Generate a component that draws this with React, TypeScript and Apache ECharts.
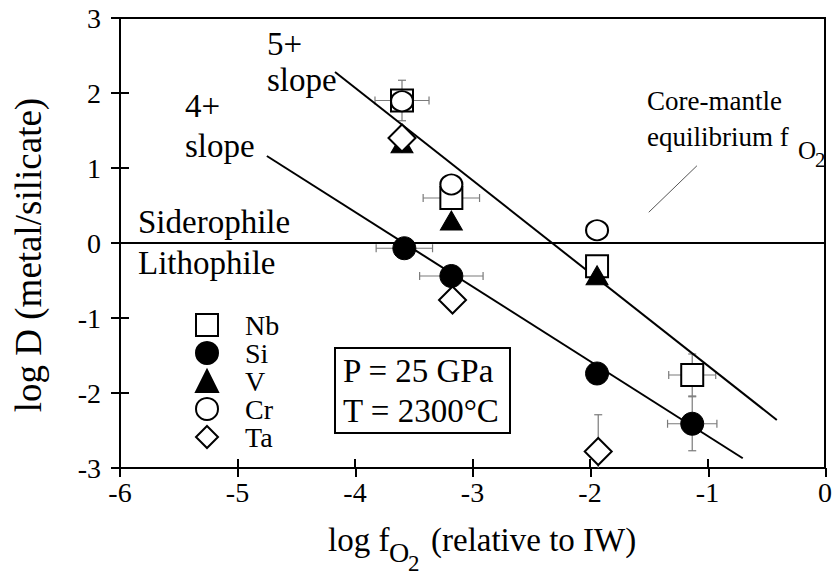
import React, { useEffect, useRef } from 'react';
import * as echarts from 'echarts';

// ---- data ----
const xAxisRange = { min: -6, max: 0, interval: 1 };
const yAxisRange = { min: -3, max: 3, interval: 1 };

const legendNames = ['Nb', 'Si', 'V', 'Cr', 'Ta'];

const nbData = [[-3.6, 1.90], [-3.18, 0.60], [-1.94, -0.31], [-1.13, -1.76]];
const siData = [[-3.58, -0.07], [-3.18, -0.44], [-1.94, -1.74], [-1.13, -2.41]];
const vData = [[-3.6, 1.33], [-3.18, 0.30], [-1.94, -0.43]];
const crData = [[-3.6, 1.89], [-3.18, 0.78], [-1.94, 0.17]];
const taData = [[-3.6, 1.40], [-3.17, -0.76], [-1.93, -2.78]];

// [x, y, xError, yError]
const errorBars = [
  [-3.6, 1.90, 0.23, 0.27],
  [-3.18, 0.60, 0.24, 0],
  [-3.58, -0.07, 0.24, 0],
  [-3.18, -0.44, 0.27, 0],
  [-1.13, -1.76, 0.2, 0.28],
  [-1.13, -2.41, 0.21, 0.36],
  [-1.93, -2.78, 0, 0.49],
];

const slope5Line = [[-4.17, 2.28], [-0.41, -2.36]];
const slope4Line = [[-4.75, 1.16], [-0.70, -2.87]];
const boundaryLine = [[-6, 0], [0, 0]];
const coreMantleLine = [[-1.50, 0.41], [-1.09, 1.03]];

const FONT = 'Liberation Serif, Times New Roman, serif';

function txt(text: string, x: number, y: number, size: number, align = 'left', extra: any = {}) {
  return {
    type: 'text',
    x,
    y,
    silent: true,
    z: 10,
    ...extra,
    style: {
      text,
      fontSize: size,
      fontFamily: FONT,
      fill: '#000',
      align,
      verticalAlign: 'middle',
      textAlign: align,
      textVerticalAlign: 'middle',
    },
  };
}

export default function App() {
  const ref = useRef<HTMLDivElement>(null);
  useEffect(() => {
    if (!ref.current) return;
    const chart = echarts.init(ref.current, null, { renderer: 'svg' });

    const emptyStyle = { color: '#fff', borderColor: '#000', borderWidth: 2, opacity: 1 };
    const filledStyle = { color: '#000', borderColor: '#000', borderWidth: 1, opacity: 1 };
    const gridPos = { left: 120, right: 9, top: 18, bottom: 109 };
    const tickStyle = { color: '#000', width: 2 };

    const option: any = {
      animation: false,
      backgroundColor: '#fff',
      grid: [
        { ...gridPos, show: true, borderColor: '#000', borderWidth: 2, backgroundColor: 'transparent' },
        { ...gridPos, show: false },
      ],
      xAxis: [
        {
          type: 'value', gridIndex: 0, ...xAxisRange, position: 'bottom',
          axisLine: { show: true, onZero: false, lineStyle: { color: '#000', width: 2 } },
          axisTick: { show: true, inside: true, length: 9, lineStyle: tickStyle },
          axisLabel: { color: '#000', fontSize: 28, fontFamily: FONT, margin: 10 },
          splitLine: { show: false },
        },
        {
          type: 'value', gridIndex: 1, ...xAxisRange, position: 'bottom',
          axisLine: { show: false, onZero: false },
          axisTick: { show: true, inside: false, length: 9, lineStyle: tickStyle },
          axisLabel: { show: false },
          splitLine: { show: false },
        },
      ],
      yAxis: [
        {
          type: 'value', gridIndex: 0, ...yAxisRange, position: 'left',
          axisLine: { show: true, onZero: false, lineStyle: { color: '#000', width: 2 } },
          axisTick: { show: true, inside: true, length: 9, lineStyle: tickStyle },
          axisLabel: { color: '#000', fontSize: 28, fontFamily: FONT, margin: 19 },
          splitLine: { show: false },
        },
        {
          type: 'value', gridIndex: 1, ...yAxisRange, position: 'left',
          axisLine: { show: false, onZero: false },
          axisTick: { show: true, inside: false, length: 9, lineStyle: tickStyle },
          axisLabel: { show: false },
          splitLine: { show: false },
        },
      ],
      legend: {
        data: legendNames,
        orient: 'vertical',
        left: 190,
        top: 306,
        itemWidth: 22,
        itemHeight: 22,
        itemGap: 0,
        selectedMode: false,
        itemStyle: { borderWidth: 2, opacity: 1 },
        textStyle: { color: '#000', fontSize: 28, fontFamily: FONT, lineHeight: 26, padding: [0, 0, 0, 22] },
      },
      graphic: [
        txt('5+', 267, 44, 33),
        txt('slope', 267, 80, 33),
        txt('4+', 185, 106, 33),
        txt('slope', 185, 146, 33),
        txt('Siderophile', 138, 222, 33),
        txt('Lithophile', 138, 263, 33),
        txt('Core-mantle', 647, 101, 27),
        txt('equilibrium f', 647, 137, 27),
        txt('O', 798, 150, 25),
        txt('2', 815, 160, 21),
        {
          type: 'rect', silent: true, z: 9,
          shape: { x: 335, y: 348, width: 175, height: 85 },
          style: { fill: '#fff', stroke: '#000', lineWidth: 2 },
        },
        txt('P = 25 GPa', 343, 371, 33),
        txt('T = 2300°C', 343, 411, 33),
        txt('log f', 328, 540, 33),
        txt('O', 389, 552, 28),
        txt('2', 408, 563, 23),
        txt('(relative to IW)', 431, 540, 33),
        txt('log D (metal/silicate)', 28, 255, 37, 'center', { rotation: Math.PI / 2 }),
      ],
      series: [
        {
          type: 'custom', name: 'errors', z: 1, clip: true,
          encode: { x: 0, y: 1 },
          data: errorBars,
          renderItem: (params: any, api: any) => {
            const x = api.value(0), y = api.value(1), xe = api.value(2), ye = api.value(3);
            const style = { stroke: '#7a7a7a', lineWidth: 1.2, fill: 'none' };
            const cap = 4;
            const children: any[] = [];
            if (xe > 0) {
              const a = api.coord([x - xe, y]);
              const b = api.coord([x + xe, y]);
              children.push({ type: 'line', shape: { x1: a[0], y1: a[1], x2: b[0], y2: b[1] }, style });
              children.push({ type: 'line', shape: { x1: a[0], y1: a[1] - cap, x2: a[0], y2: a[1] + cap }, style });
              children.push({ type: 'line', shape: { x1: b[0], y1: b[1] - cap, x2: b[0], y2: b[1] + cap }, style });
            }
            if (ye > 0) {
              const a = api.coord([x, y - ye]);
              const b = api.coord([x, y + ye]);
              children.push({ type: 'line', shape: { x1: a[0], y1: a[1], x2: b[0], y2: b[1] }, style });
              children.push({ type: 'line', shape: { x1: a[0] - cap, y1: a[1], x2: a[0] + cap, y2: a[1] }, style });
              children.push({ type: 'line', shape: { x1: b[0] - cap, y1: b[1], x2: b[0] + cap, y2: b[1] }, style });
            }
            return { type: 'group', children };
          },
        },
        { type: 'line', name: 'slope5', data: slope5Line, showSymbol: false, z: 2, lineStyle: { color: '#000', width: 2 } },
        { type: 'line', name: 'slope4', data: slope4Line, showSymbol: false, z: 2, lineStyle: { color: '#000', width: 2 } },
        { type: 'line', name: 'boundary', data: boundaryLine, showSymbol: false, z: 2, lineStyle: { color: '#000', width: 2 } },
        { type: 'line', name: 'coreMantle', data: coreMantleLine, showSymbol: false, z: 2, lineStyle: { color: '#555', width: 1 } },
        { type: 'scatter', name: 'Nb', data: nbData, symbol: 'rect', symbolSize: 22, z: 3, itemStyle: emptyStyle },
        { type: 'scatter', name: 'Si', data: siData, symbol: 'circle', symbolSize: 23, z: 3, itemStyle: filledStyle },
        { type: 'scatter', name: 'V', data: vData, symbol: 'triangle', symbolSize: [22, 19], z: 3, itemStyle: filledStyle },
        { type: 'scatter', name: 'Cr', data: crData, symbol: 'circle', symbolSize: [22, 20], z: 3, itemStyle: emptyStyle },
        { type: 'scatter', name: 'Ta', data: taData, symbol: 'diamond', symbolSize: 27, z: 3, itemStyle: emptyStyle },
      ],
    };
    chart.setOption(option);
    return () => chart.dispose();
  }, []);

  return (
    <div
      ref={ref}
      style={{ position: 'fixed', left: 0, top: 0, width: 835, height: 577, background: '#fff' }}
    />
  );
}
